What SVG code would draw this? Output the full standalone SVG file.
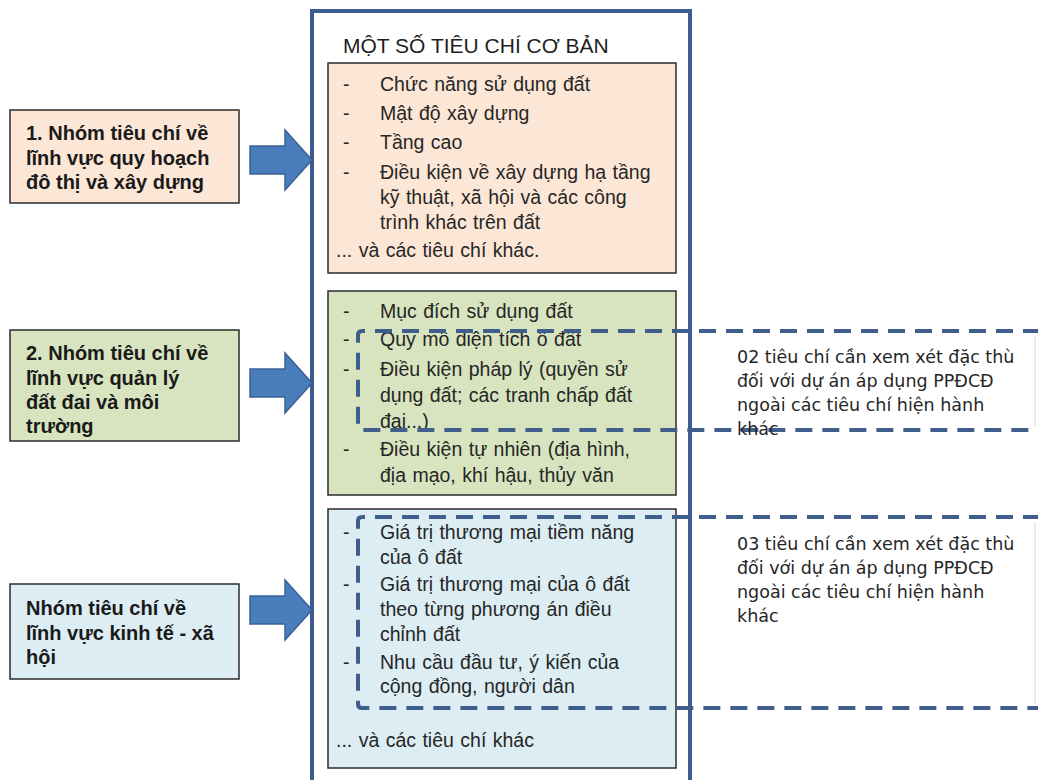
<svg xmlns="http://www.w3.org/2000/svg" width="1038" height="780" viewBox="0 0 1038 780">
  <style>
    .group-box { stroke: #2b2b2b; stroke-width: 1.5; }
    .group-label { font-family: "Liberation Sans", Arial, sans-serif; font-weight: bold; font-size: 20px; fill: #1a1a1a; }
    .crit-box { stroke: #2b2b2b; stroke-width: 1.5; }
    .crit-text { font-family: "Liberation Sans", Arial, sans-serif; font-size: 19.5px; word-spacing: 1px; fill: #262626; }
    .note-text { font-family: "DejaVu Sans", Verdana, sans-serif; font-size: 17.5px; fill: #262626; }
    .title { font-family: "Liberation Sans", Arial, sans-serif; font-size: 21px; fill: #1e1e1e; }
    .frame { fill: none; stroke: #3d5d8e; stroke-width: 4; }
    .dash-box { fill: none; stroke: #3f5e8c; stroke-width: 4; stroke-dasharray: 17 10; }
    .note-edge { stroke: #d9dde3; stroke-width: 1.2; }
    .block-arrow { fill: #4a7dbb; stroke: #3a6196; stroke-width: 1.5; }
    .peach { fill: #fce6d6; }
    .green { fill: #d8e4bf; }
    .blue { fill: #dcedf3; }
  </style>
  <defs>
    <path id="block-arrow-shape" d="M0,-14 H35 V-30 L62,0 L35,30 V14 H0 Z"/>
  </defs>

  <rect width="1038" height="780" fill="#ffffff"/>

  <!-- central frame -->
  <g id="criteria-frame">
    <path class="frame" d="M312,782 V11 H690 V782"/>
    <text class="title" x="343" y="53">MỘT SỐ TIÊU CHÍ CƠ BẢN</text>
  </g>

  <!-- criteria group 1: planning and construction -->
  <g id="criteria-planning">
    <rect class="crit-box peach" x="328" y="63" width="348" height="210"/>
    <g class="crit-text">
      <text x="343" y="91">-</text><text x="380" y="91">Chức năng sử dụng đất</text>
      <text x="343" y="120">-</text><text x="380" y="120">Mật độ xây dựng</text>
      <text x="343" y="149">-</text><text x="380" y="149">Tầng cao</text>
      <text x="343" y="179">-</text><text x="380" y="179">Điều kiện về xây dựng hạ tầng</text>
      <text x="380" y="204">kỹ thuật, xã hội và các công</text>
      <text x="380" y="229">trình khác trên đất</text>
      <text x="336" y="257">... và các tiêu chí khác.</text>
    </g>
  </g>

  <!-- criteria group 2: land and environment -->
  <g id="criteria-land">
    <rect class="crit-box green" x="328" y="291" width="348" height="204"/>
    <g class="crit-text">
      <text x="343" y="318">-</text><text x="380" y="318">Mục đích sử dụng đất</text>
      <text x="343" y="346">-</text><text x="380" y="346">Quy mô diện tích ô đất</text>
      <text x="343" y="376">-</text><text x="380" y="376">Điều kiện pháp lý (quyền sử</text>
      <text x="380" y="402">dụng đất; các tranh chấp đất</text>
      <text x="380" y="428">đai...)</text>
      <text x="343" y="456">-</text><text x="380" y="456">Điều kiện tự nhiên (địa hình,</text>
      <text x="380" y="482">địa mạo, khí hậu, thủy văn</text>
    </g>
  </g>

  <!-- criteria group 3: socio-economic -->
  <g id="criteria-socioeconomic">
    <rect class="crit-box blue" x="328" y="509" width="348" height="259"/>
    <g class="crit-text">
      <text x="343" y="539">-</text><text x="380" y="539">Giá trị thương mại tiềm năng</text>
      <text x="380" y="564">của ô đất</text>
      <text x="343" y="591">-</text><text x="380" y="591">Giá trị thương mại của ô đất</text>
      <text x="380" y="616">theo từng phương án điều</text>
      <text x="380" y="641">chỉnh đất</text>
      <text x="343" y="669">-</text><text x="380" y="669">Nhu cầu đầu tư, ý kiến của</text>
      <text x="380" y="693">cộng đồng, người dân</text>
      <text x="336" y="747">... và các tiêu chí khác</text>
    </g>
  </g>

  <!-- left-hand group labels -->
  <g id="group-planning">
    <rect class="group-box peach" x="10" y="110" width="229" height="93"/>
    <g class="group-label">
      <text x="26" y="140">1. Nhóm tiêu chí về</text>
      <text x="26" y="165">lĩnh vực  quy hoạch</text>
      <text x="26" y="189">đô thị và xây dựng</text>
    </g>
  </g>
  <g id="group-land">
    <rect class="group-box green" x="10" y="330" width="229" height="111"/>
    <g class="group-label">
      <text x="26" y="360">2. Nhóm tiêu chí về</text>
      <text x="26" y="385">lĩnh vực  quản lý</text>
      <text x="26" y="409">đất đai và môi</text>
      <text x="26" y="433">trường</text>
    </g>
  </g>
  <g id="group-socioeconomic">
    <rect class="group-box blue" x="10" y="584" width="229" height="95"/>
    <g class="group-label">
      <text x="26" y="615">Nhóm tiêu chí về</text>
      <text x="26" y="640">lĩnh vực  kinh tế - xã</text>
      <text x="26" y="664">hội</text>
    </g>
  </g>

  <!-- highlighted criteria notes -->
  <g id="note-two-criteria">
    <line class="note-edge" x1="1035" y1="336" x2="1035" y2="426"/>
    <path class="dash-box" d="M1040,331 H362 Q358,331 358,335 V426 Q358,430 362,430 H1040"/>
    <g class="note-text">
      <text x="737" y="363">02 tiêu chí cần xem xét đặc thù</text>
      <text x="737" y="387">đối với dự án áp dụng PPĐCĐ</text>
      <text x="737" y="411">ngoài các tiêu chí hiện hành</text>
      <text x="737" y="435">khác</text>
    </g>
  </g>
  <g id="note-three-criteria">
    <line class="note-edge" x1="1035" y1="522" x2="1035" y2="704"/>
    <path class="dash-box" d="M1040,517 H362 Q358,517 358,521 V704 Q358,708 362,708 H1040"/>
    <g class="note-text">
      <text x="737" y="550">03 tiêu chí cần xem xét đặc thù</text>
      <text x="737" y="574">đối với dự án áp dụng PPĐCĐ</text>
      <text x="737" y="598">ngoài các tiêu chí hiện hành</text>
      <text x="737" y="622">khác</text>
    </g>
  </g>

  <!-- block arrows from group labels into the frame -->
  <g id="connectors">
    <use href="#block-arrow-shape" class="block-arrow" x="250" y="160"/>
    <use href="#block-arrow-shape" class="block-arrow" x="250" y="383"/>
    <use href="#block-arrow-shape" class="block-arrow" x="250" y="610"/>
  </g>
</svg>
